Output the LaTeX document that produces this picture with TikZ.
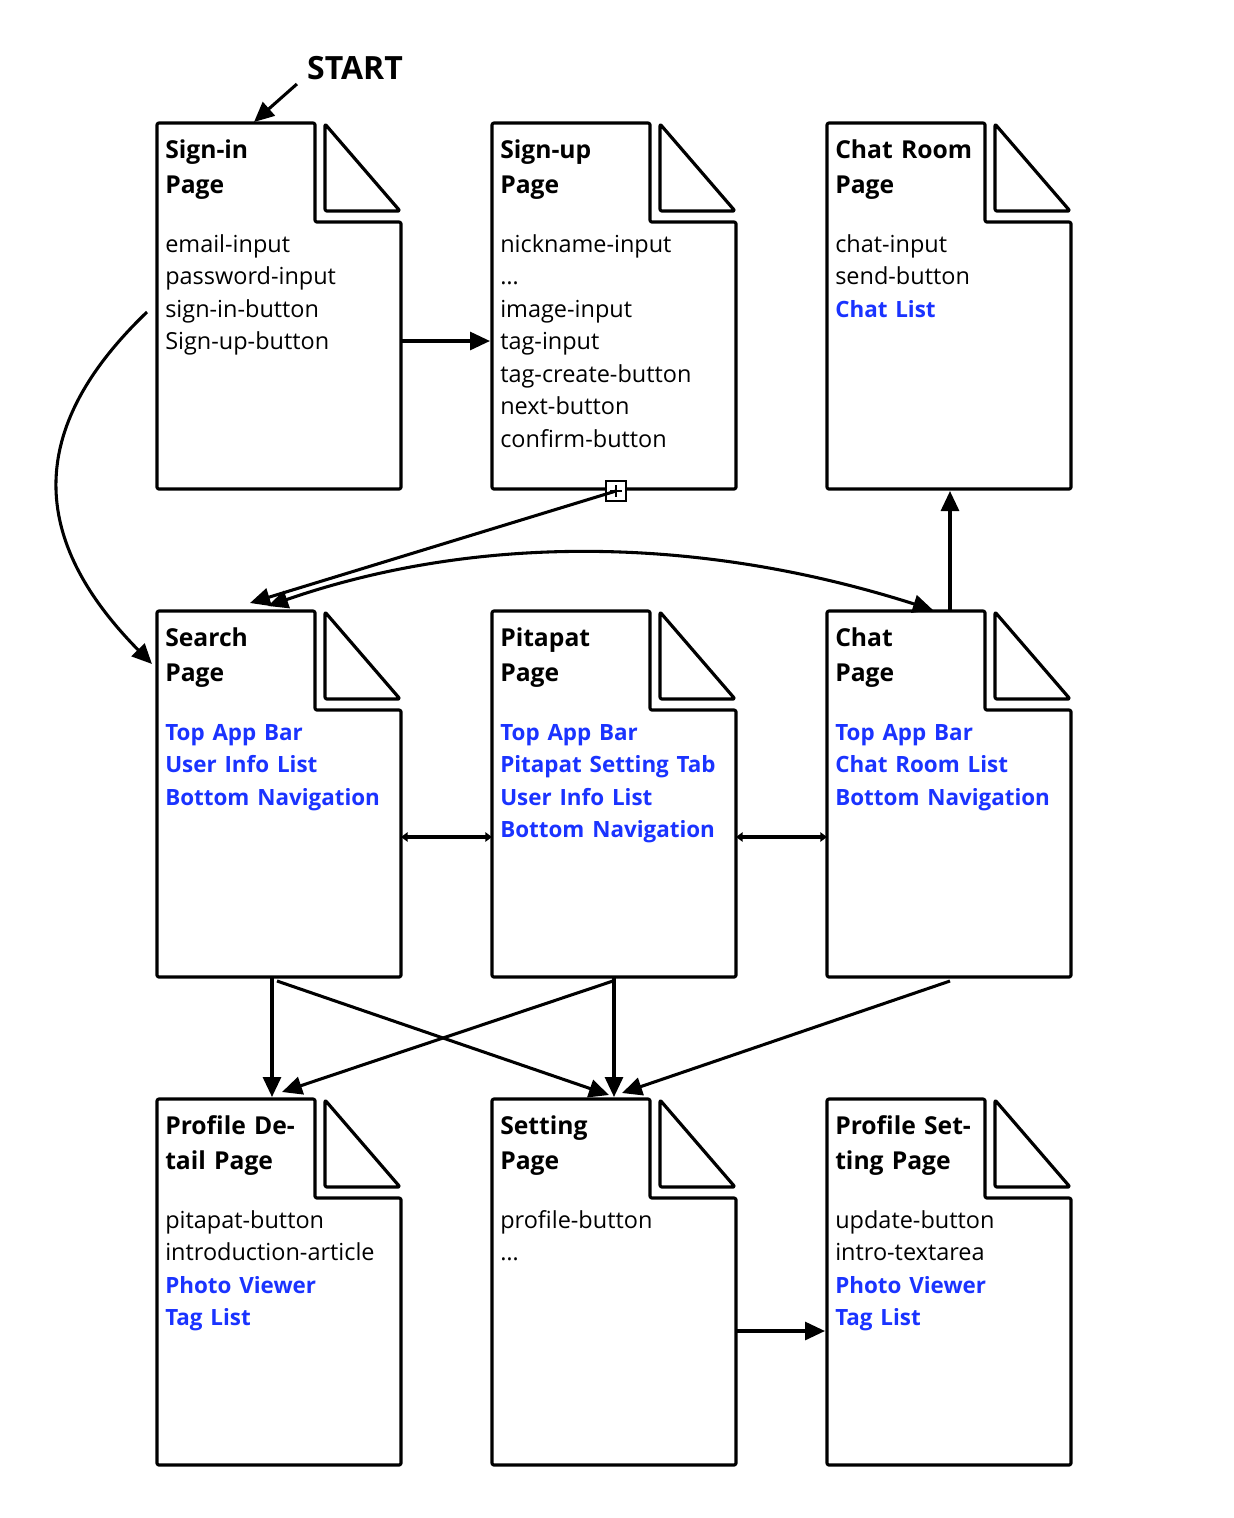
\documentclass[tikz,border=0pt]{standalone}
\usepackage{fontspec}
\setmainfont{Open Sans}
\usetikzlibrary{calc,arrows.meta}
\definecolor{linkblue}{RGB}{26,51,255}
\newcommand\lk[1]{\leavevmode{\color{linkblue}\bfseries\fontsize{16.8}{24.4}\selectfont #1}}
\newcommand\pagebox[5]{%
  \node[pagearea] (#1) at (#2+122,#3+183) {};
  \draw[pageline] (#1.north west) -- ++(158,0) -- ++(0,99) -- ++(86,0) |- (#1.south west) -- cycle;
  \draw[pageline] ($(#1.north west)+(168,1)$) -- ++(0,87) -- ++(75,0) -- cycle;
  \node[titletext] (#1-title) at ($(#1.north west)+(8,35)$) {#4};
  \node[bodytext] (#1-body) at ($(#1.north west)+(8,129)$) {#5};
}
\tikzset{
  pagearea/.style={minimum width=183pt, minimum height=274.5pt, inner sep=0pt, outer sep=0pt},
  pageline/.style={line width=2.4pt, rounded corners=1.5pt, line join=round},
  titletext/.style={anchor=base west, inner sep=0pt, text width=180pt, align=left, font=\bfseries\fontsize{18.5}{26.25}\selectfont},
  bodytext/.style={anchor=base west, inner sep=0pt, text width=180pt, align=left, font=\fontsize{17.6}{24.4}\selectfont},
  starttext/.style={inner sep=0pt, font=\bfseries\fontsize{24}{28}\selectfont},
  conn/.style={line width=2.3pt, -{Triangle[length=15pt,width=13.5pt]}},
  bconn/.style={line width=2.3pt, {Triangle[length=15pt,width=13.5pt]}-{Triangle[length=15pt,width=13.5pt]}},
  dconn/.style={line width=2.3pt, {Triangle[length=5pt,width=7pt]}-{Triangle[length=5pt,width=7pt]}},
  plusbox/.style={draw, line width=1.5pt, minimum size=15pt, inner sep=0pt, fill=white},
}
\begin{document}
\begin{tikzpicture}[x=0.75pt,y=-0.75pt]
\useasboundingbox (0,0) rectangle (1234,1518);
\node[starttext] (start) at (355,68) {START};
\pagebox{signin}{157}{123}{Sign-in\\Page}{email-input\\password-input\\sign-in-button\\Sign-up-button}
\pagebox{signup}{492}{123}{Sign-up\\Page}{nickname-input\\…\\image-input\\tag-input\\tag-create-button\\next-button\\confirm-button}
\pagebox{chatroom}{827}{123}{Chat Room\\Page}{chat-input\\send-button\\\lk{Chat List}}
\pagebox{search}{157}{611}{Search\\Page}{\lk{Top App Bar}\\\lk{User Info List}\\\lk{Bottom Navigation}}
\pagebox{pitapat}{492}{611}{Pitapat\\Page}{\lk{Top App Bar}\\\lk{Pitapat Setting Tab}\\\lk{User Info List}\\\lk{Bottom Navigation}}
\pagebox{chat}{827}{611}{Chat\\Page}{\lk{Top App Bar}\\\lk{Chat Room List}\\\lk{Bottom Navigation}}
\pagebox{profiledetail}{157}{1099}{Profile De-\\tail Page}{pitapat-button\\introduction-article\\\lk{Photo Viewer}\\\lk{Tag List}}
\pagebox{setting}{492}{1099}{Setting\\Page}{profile-button\\…}
\pagebox{profilesetting}{827}{1099}{Profile Set-\\ting Page}{update-button\\intro-textarea\\\lk{Photo Viewer}\\\lk{Tag List}}
% start arrow
\draw[conn] ($(start.south west)+(-10,4)$) -- ($(signin.north west)+(97,-1)$);
% sign-in -> sign-up
\draw[conn] ($(signin.north east)+(0,218)$) -- ($(signup.north west)+(-2,218)$);
% sign-in -> search (curve)
\draw[conn] ($(signin.north west)+(-10,189)$) .. controls (24,430) and (30,540) .. ($(search.north west)+(-5,53)$);
% sign-up -> search with marker
\node[plusbox] (plus) at ($(signup.south west)+(124,2)$) {};
\draw[line width=1.2pt] ($(plus.center)+(-6,0)$) -- ($(plus.center)+(6,0)$);
\draw[line width=1.2pt] ($(plus.center)+(0,-6)$) -- ($(plus.center)+(0,6)$);
\draw[conn] (plus.center) -- ($(search.north west)+(93,-8)$);
% search <-> chat (curve)
\draw[bconn] ($(search.north west)+(111,-5)$) .. controls (476,534) and (698,535) .. ($(chat.north west)+(106,-1)$);
% chat -> chat room
\draw[conn] ($(chat.north west)+(123,0)$) -- ($(chatroom.south west)+(123,2)$);
% horizontal double arrows
\draw[dconn] ($(search.north east)+(0,226)$) -- ($(pitapat.north west)+(0,226)$);
\draw[dconn] ($(pitapat.north east)+(0,226)$) -- ($(chat.north west)+(0,226)$);
% bottom arrows
\draw[conn] ($(search.south west)+(115,0)$) -- ($(profiledetail.north west)+(115,-2)$);
\draw[conn] ($(search.south west)+(120,4)$) -- ($(setting.north west)+(117,-4)$);
\draw[conn] ($(pitapat.south west)+(121,4)$) -- ($(profiledetail.north west)+(125,-7)$);
\draw[conn] ($(pitapat.south west)+(122,0)$) -- ($(setting.north west)+(122,-2)$);
\draw[conn] ($(chat.south west)+(123,4)$) -- ($(setting.north west)+(130,-6)$);
% setting -> profile setting
\draw[conn] ($(setting.north east)+(0,232)$) -- ($(profilesetting.north west)+(-2,232)$);
\end{tikzpicture}
\end{document}
